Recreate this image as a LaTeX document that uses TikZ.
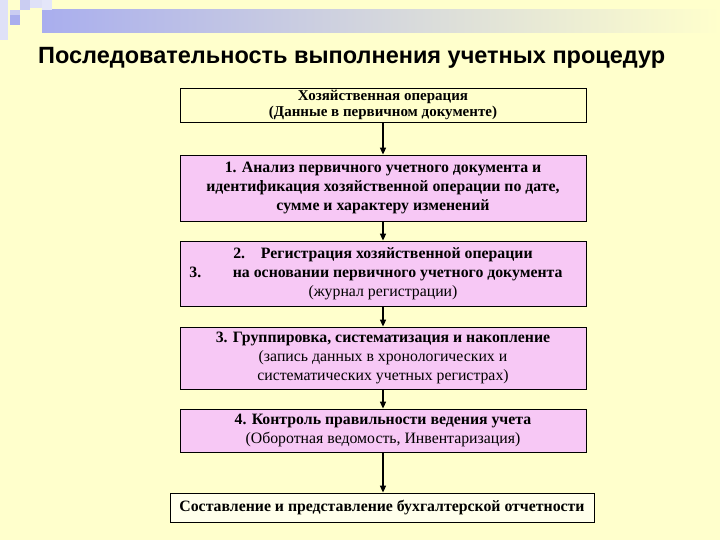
\documentclass[tikz,border=0pt]{standalone}
\usepackage{fontspec}
\setmainfont{Liberation Serif}
\newfontfamily\titlefont{Liberation Sans}
\usetikzlibrary{arrows.meta}
\definecolor{bg}{HTML}{FFFFCC}
\definecolor{pinkf}{HTML}{F7C8F5}
\definecolor{lav}{HTML}{A9AEEE}
\definecolor{lavl}{HTML}{CACDF2}
\begin{document}
\begin{tikzpicture}[x=1pt,y=-1pt,
 box/.style={draw=black,line width=0.8pt,minimum width=406pt,align=center,inner sep=1pt,font=\fontsize{15.8}{19}\selectfont},
 arr/.style={-{Triangle[length=7pt,width=6pt]},line width=1.5pt}]
\fill[bg] (0,0) rectangle (720,540);
\useasboundingbox (0,0) rectangle (720,540);
% decoration
\shade[left color=lav,right color=bg] (42,10) rectangle (720,33);
\fill[lavl] (10,10) rectangle (20,20);
\fill[lavl] (20,0) rectangle (30,10);
\fill[lav] (10,15) rectangle (20,25);
\fill[lavl!60] (0,0) rectangle (8,40);
\fill[lavl!60] (30,0) rectangle (42,8);
\fill[lavl!50] (42,0) rectangle (52,10);
\node[font=\titlefont\bfseries\fontsize{23.5}{26}\selectfont,anchor=west,inner sep=0pt] (t) at (38,58) {Последовательность выполнения учетных процедур};
\node[box,fill=bg,minimum height=34pt,font=\fontsize{15}{16.5}\selectfont,inner sep=0pt] (b0) at (383,105) {\textbf{Хозяйственная операция}\\\textbf{(Данные в первичном документе)}};
\node[box,fill=pinkf,minimum height=66pt] (b1) at (383,188) {\textbf{1. Анализ первичного учетного документа и}\\\textbf{идентификация хозяйственной операции по дате,}\\\textbf{сумме и характеру изменений}};
\node[box,fill=pinkf,minimum height=65pt] (b2) at (383,273.5) {\textbf{2.\quad Регистрация хозяйственной операции}\\\hspace*{-14pt}\textbf{3.\qquad на основании первичного учетного документа}\\(журнал регистрации)};
\node[box,fill=pinkf,minimum height=62pt] (b3) at (383,358) {\textbf{3. Группировка, систематизация и накопление}\\(запись данных в хронологических и\\систематических учетных регистрах)};
\node[box,fill=pinkf,minimum height=43pt] (b4) at (383,430.5) {\textbf{4. Контроль правильности ведения учета}\\(Оборотная ведомость, Инвентаризация)};
\node[box,fill=bg!40!white,minimum width=424pt,minimum height=29pt] (b5) at (382,507.5) {\textbf{Составление и представление бухгалтерской отчетности}};
\draw[arr] (b0.south) -- (b1.north);
\draw[arr] (b1.south) -- (b2.north);
\draw[arr] (b2.south) -- (b3.north);
\draw[arr] (b3.south) -- (b4.north);
\draw[arr] (b4.south) -- (b5.north -| b4.south);
\end{tikzpicture}
\end{document}
